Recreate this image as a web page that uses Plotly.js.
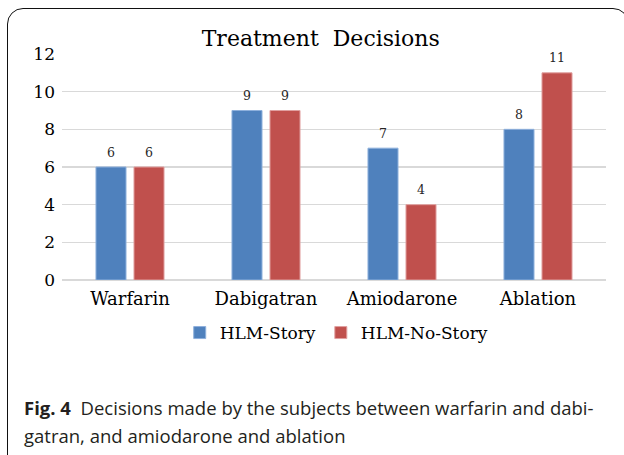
<!DOCTYPE html>
<html>
<head>
<meta charset="utf-8">
<script src="https://cdn.plot.ly/plotly-3.0.1.min.js"></script>
<style>
  html, body { margin: 0; padding: 0; background: #fff; }
  #wrap { position: relative; width: 624px; height: 455px; overflow: hidden; }
  #chart { position: absolute; left: 0; top: 0; width: 624px; height: 455px; }
  #frame { position: absolute; left: 7px; top: 8px; width: 622px; height: 470px;
           border: 1.5px solid #111; border-radius: 16px; pointer-events: none; box-sizing: border-box; }
</style>
</head>
<body>
<div id="wrap">
  <div id="chart"></div>
  <div id="frame"></div>
</div>
<script>
const categories = ['Warfarin', 'Dabigatran', 'Amiodarone', 'Ablation'];
const seriesNames = ['HLM-Story', 'HLM-No-Story'];
const hlmStory = [6, 9, 7, 8];
const hlmNoStory = [6, 9, 4, 11];
const yTicks = [0, 2, 4, 6, 8, 10, 12];
const chartTitle = 'Treatment  Decisions';
const captionLine1 = '<b>Fig. 4</b>  Decisions made by the subjects between warfarin and dabi-';
const captionLine2 = 'gatran, and amiodarone and ablation';

const serif = 'DejaVu Serif, Liberation Serif, serif';
const sans = 'Open Sans, Noto Sans, sans-serif';
const colors = ['#4F81BD', '#C0504D'];
const edge = ['#8EB0DC', '#E0A0A0'];

const seriesValues = [hlmStory, hlmNoStory];
const traces = seriesValues.map((vals, i) => ({
  type: 'bar',
  name: seriesNames[i],
  x: categories,
  y: vals,
  marker: { color: colors[i], line: { color: edge[i], width: 1 } },
  hoverinfo: 'x+y+name'
}));

const annotations = [];
const shifts = [-19, 19];
seriesValues.forEach((vals, i) => {
  vals.forEach((v, j) => {
    annotations.push({
      x: categories[j], y: v, xref: 'x', yref: 'y',
      text: String(v), showarrow: false,
      xshift: shifts[i], yshift: 15, yanchor: 'middle',
      font: { family: serif, size: 12.5, color: '#262626' }
    });
  });
});
annotations.push({
  xref: 'paper', yref: 'paper', x: -0.0735, y: -0.566, xanchor: 'left', yanchor: 'middle',
  text: captionLine1, showarrow: false, align: 'left',
  font: { family: sans, size: 18.5, color: '#231f20' }
});
annotations.push({
  xref: 'paper', yref: 'paper', x: -0.0735, y: -0.690, xanchor: 'left', yanchor: 'middle',
  text: captionLine2, showarrow: false, align: 'left',
  font: { family: sans, size: 18.5, color: '#231f20' }
});

const layout = {
  width: 624, height: 455,
  margin: { l: 62, r: 18, t: 54, b: 175 },
  paper_bgcolor: '#fff', plot_bgcolor: '#fff',
  title: {
    text: chartTitle, xref: 'container', yref: 'container',
    x: 0.514, y: 0.9165, xanchor: 'center', yanchor: 'middle',
    font: { family: serif, size: 22, color: '#000' }
  },
  barmode: 'group', bargap: 0.441, bargroupgap: 0.21,
  xaxis: {
    type: 'category', showgrid: false, zeroline: false, showline: false,
    ticks: '', ticklabelstandoff: 6,
    tickfont: { family: serif, size: 18, color: '#000' }
  },
  yaxis: {
    range: [0, 12], tickvals: yTicks, ticktext: yTicks.map(String),
    showgrid: true, gridcolor: '#d9d9d9', gridwidth: 1.5,
    zeroline: true, zerolinecolor: '#d9d9d9', zerolinewidth: 1.5,
    showline: false, ticks: '', ticklabelstandoff: 6,
    tickfont: { family: serif, size: 17, color: '#000' }
  },
  showlegend: true,
  legend: {
    orientation: 'h', x: 0.505, xanchor: 'center', y: -0.2345, yanchor: 'middle',
    font: { family: serif, size: 17, color: '#000' },
    itemwidth: 30, traceorder: 'normal', bgcolor: 'rgba(0,0,0,0)'
  },
  annotations: annotations
};

Plotly.newPlot('chart', traces, layout, { displayModeBar: false, staticPlot: true });
</script>
</body>
</html>
